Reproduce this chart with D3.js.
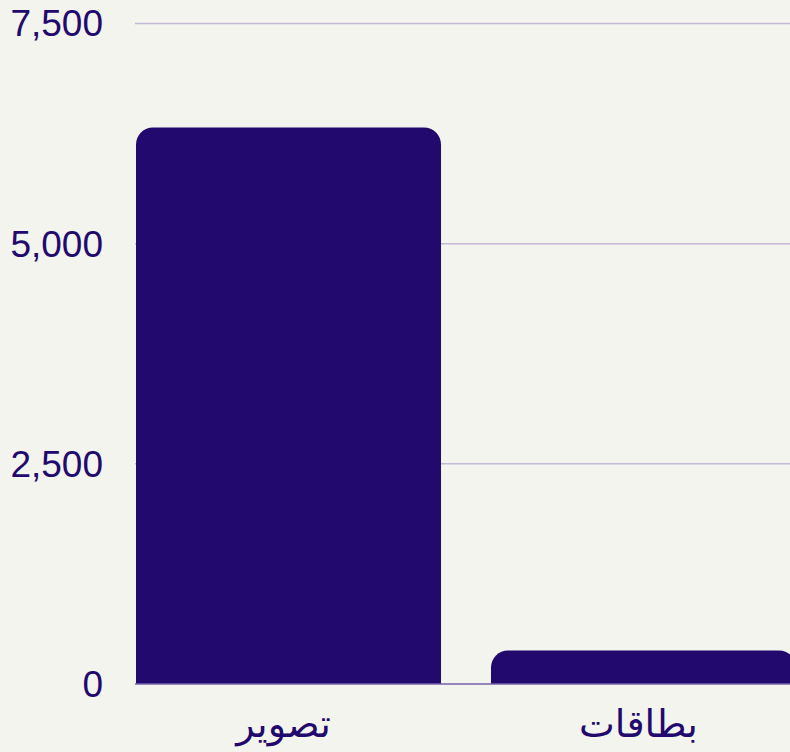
<!DOCTYPE html>
<html lang="ar">
  <head>
    <meta charset="utf-8" />
    <title>Chart</title>
    <script src="https://d3js.org/d3.v7.min.js"></script>
    <style>
      html, body {
        margin: 0;
        padding: 0;
        background: #f4f4ef;
      }
      svg {
        display: block;
      }
      .tick-label {
        font-family: "Liberation Sans", Arial, sans-serif;
        font-size: 37px;
        fill: #22096e;
      }
      .cat-label {
        font-family: "DejaVu Sans", "Noto Sans", sans-serif;
        font-size: 38px;
        fill: #22096e;
      }
    </style>
  </head>
  <body>
    <svg width="790" height="752"></svg>
    <script>

    var categories = ["تصوير", "بطاقات"];
    var values = [6320, 380];
    var tickValues = [0, 2500, 5000, 7500];

    var svg = d3.select("svg"),
        width = 790,
        height = 752;

    var x = d3.scaleBand()
        .domain(categories)
        .range([136, 796])
        .paddingInner(0.1408)
        .paddingOuter(0);

    var y = d3.scaleLinear()
        .domain([0, 7500])
        .range([684, 23.5]);

    // grid lines
    svg.append("g").selectAll("line")
        .data(tickValues.filter(function(d) { return d > 0; }))
        .enter().append("line")
        .attr("x1", 135)
        .attr("x2", width)
        .attr("y1", function(d) { return y(d); })
        .attr("y2", function(d) { return y(d); })
        .attr("stroke", "#c3b8d8")
        .attr("stroke-width", 1.5);

    // tick labels
    svg.append("g").selectAll("text")
        .data(tickValues)
        .enter().append("text")
        .attr("class", "tick-label")
        .attr("x", 103)
        .attr("y", function(d) { return y(d); })
        .attr("dy", "0.35em")
        .attr("text-anchor", "end")
        .text(function(d) { return d3.format(",")(d); });

    // bars with rounded tops
    function barPath(x0, w, yTop, yBase, r) {
      r = Math.min(r, w / 2, yBase - yTop);
      return "M" + x0 + "," + yBase +
        "V" + (yTop + r) +
        "A" + r + "," + r + " 0 0 1 " + (x0 + r) + "," + yTop +
        "H" + (x0 + w - r) +
        "A" + r + "," + r + " 0 0 1 " + (x0 + w) + "," + (yTop + r) +
        "V" + yBase + "Z";
    }

    var data = categories.map(function(c, i) { return {cat: c, value: values[i]}; });

    svg.append("g").selectAll("path")
        .data(data)
        .enter().append("path")
        .attr("fill", "#22096e")
        .attr("d", function(d) {
          return barPath(x(d.cat), x.bandwidth(), y(d.value), y(0), 17);
        });

    // baseline
    svg.append("line")
        .attr("x1", 135)
        .attr("x2", width)
        .attr("y1", y(0))
        .attr("y2", y(0))
        .attr("stroke", "#7462a6")
        .attr("stroke-width", 1.5);

    // category labels
    svg.append("g").selectAll("text")
        .data(categories)
        .enter().append("text")
        .attr("class", "cat-label")
        .attr("x", function(d) { return x(d) + x.bandwidth() / 2 - 5; })
        .attr("y", 737)
        .attr("text-anchor", "middle")
        .text(function(d) { return d; });

    </script>
  </body>
</html>
